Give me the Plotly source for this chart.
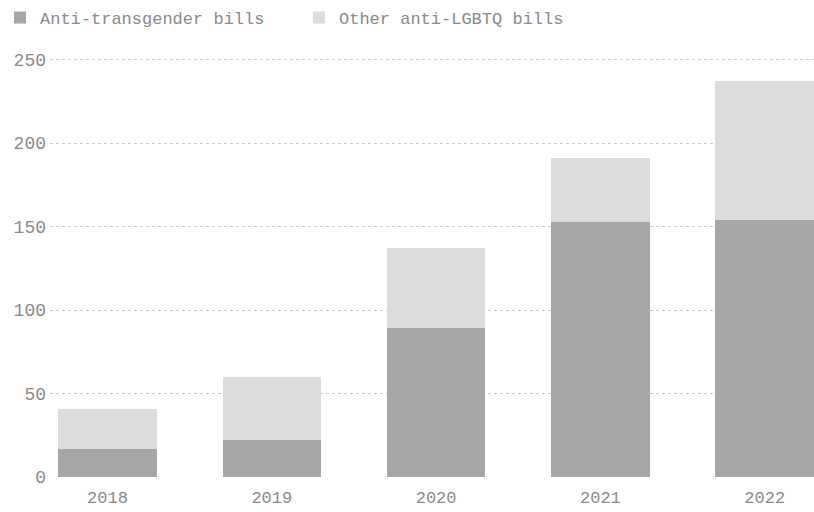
import plotly.graph_objects as go

years = ["2018", "2019", "2020", "2021", "2022"]
anti_trans = [17, 22, 89, 153, 154]
other_lgbtq = [24, 38, 48, 38, 83]
y_ticks = [0, 50, 100, 150, 200, 250]

FONT = "Liberation Mono"

fig = go.Figure()
fig.add_trace(go.Bar(x=years, y=anti_trans, name="Anti-transgender bills",
                     marker=dict(color="#a6a6a6", line=dict(width=0))))
fig.add_trace(go.Bar(x=years, y=other_lgbtq, name="Other anti-LGBTQ bills",
                     marker=dict(color="#dcdcdc", line=dict(width=0))))

fig.update_layout(
    width=814, height=512,
    barmode="stack", bargap=0.4,
    paper_bgcolor="white", plot_bgcolor="white",
    margin=dict(l=50, r=0, t=58, b=35),
    font=dict(family=FONT, size=17, color="#8a8a8a"),
    legend=dict(orientation="h", x=0, y=1, xanchor="left", yanchor="top",
                xref="container", yref="container",
                font=dict(size=17, color="#8a8a8a"),
                entrywidth=254, entrywidthmode="pixels", traceorder="normal"),
    xaxis=dict(type="category", range=[-0.35, 4.3], showgrid=False,
               showline=False, ticks="", tickfont=dict(size=17),
               ticklabelstandoff=8),
    yaxis=dict(range=[0, 251], tickvals=y_ticks, showgrid=True,
               gridcolor="#cccccc", griddash="dot", gridwidth=1,
               zeroline=False, showline=False, ticks="",
               tickfont=dict(size=18), ticklabelstandoff=3),
)
fig.write_html("out.html")
